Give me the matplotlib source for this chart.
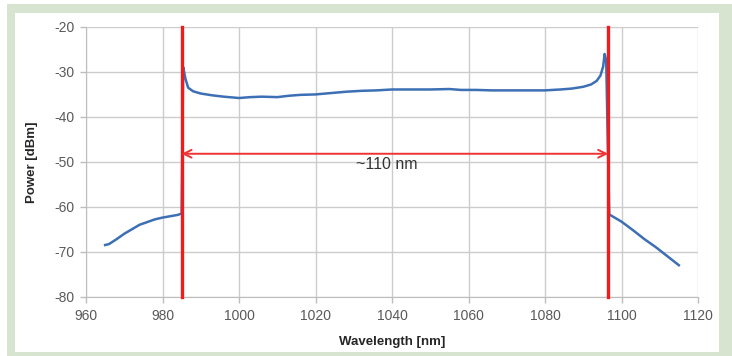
import numpy as np
import matplotlib.pyplot as plt
from matplotlib.patches import Rectangle

plt.rcParams['axes.unicode_minus'] = False

# spectrum
wl = [965, 966, 968, 970, 972, 974, 976, 978, 980, 982, 984, 985.0,
      985.4, 986, 986.7, 988, 990, 993, 996, 1000, 1003, 1006, 1010, 1013,
      1016, 1020, 1024, 1028, 1032, 1036, 1040, 1045, 1050, 1055, 1058,
      1062, 1066, 1070, 1075, 1080, 1084, 1087, 1090, 1092, 1093.5, 1094.5,
      1095.2, 1095.6, 1096.0, 1096.4, 1096.8, 1100, 1103, 1106, 1109,
      1112, 1115]
power = [-68.5, -68.3, -67.2, -66.0, -65.0, -64.0, -63.4, -62.8, -62.4, -62.1, -61.8, -61.5,
         -28.9, -31.5, -33.5, -34.3, -34.8, -35.2, -35.5, -35.8, -35.6, -35.5, -35.6, -35.3,
         -35.1, -35.0, -34.7, -34.4, -34.2, -34.1, -33.9, -33.9, -33.9, -33.8, -34.0,
         -34.0, -34.1, -34.1, -34.1, -34.1, -33.9, -33.7, -33.3, -32.8, -32.0, -30.8,
         -28.8, -26.0, -27.5, -45.0, -61.7, -63.3, -65.2, -67.2, -69.0,
         -71.0, -73.0]

xticks = [960, 980, 1000, 1020, 1040, 1060, 1080, 1100, 1120]
yticks = [-80, -70, -60, -50, -40, -30, -20]
edges = [985.0, 1096.5]   # red markers
span_y = -48.2
span_text = '~110 nm'

fig = plt.figure(figsize=(7.32, 3.56), dpi=100, facecolor='white')
# light green frame around the white panel
fig.patches.append(Rectangle((7 / 732, 0), 1 - 7 / 732, 1 - 4 / 356, transform=fig.transFigure,
                             facecolor='#d7e4cf', edgecolor='none', zorder=-2))
fig.patches.append(Rectangle((15 / 732, 4 / 356), (719 - 15) / 732, (352 - 13) / 356,
                             transform=fig.transFigure, facecolor='white',
                             edgecolor='none', zorder=-1))

ax = fig.add_axes([86 / 732, 1 - 296.7 / 356, (698 - 86) / 732, (296.7 - 27) / 356])
ax.set_facecolor('none')

ax.plot(wl, power, color='#3c6fb4', lw=1.8, zorder=3)
for e in edges:
    ax.plot([e, e], [yticks[0], yticks[-1]], color='#ee1c1c', lw=2.4, zorder=4, clip_on=False)

ax.annotate('', xy=(edges[0], span_y), xytext=(edges[1], span_y),
            arrowprops=dict(arrowstyle='<->', color='#ee3333', lw=1.4,
                            mutation_scale=14, shrinkA=0, shrinkB=0), zorder=5)
ax.text(1038.6, -50.7, span_text, ha='center', va='center', fontsize=11.5,
        family='Liberation Sans', color='#333333')

ax.set_xlim(960, 1120)
ax.set_ylim(-80, -20)
ax.set_xticks(xticks)
ax.set_yticks(yticks)
ax.grid(True, color='#cccccc', lw=1.0)
ax.set_axisbelow(True)
for s in ['top', 'right']:
    ax.spines[s].set_visible(False)
ax.spines['left'].set_color('#bdbdbd')
ax.spines['bottom'].set_color('#bdbdbd')
ax.tick_params(colors='#bdbdbd', labelcolor='#595959', labelsize=10, length=4, width=1)
for lab in ax.get_xticklabels() + ax.get_yticklabels():
    lab.set_family('Liberation Sans')
ax.tick_params(axis='x', pad=5)
ax.tick_params(axis='y', pad=4)

ax.set_xlabel('Wavelength [nm]', fontsize=9.5, fontweight='bold', family='Liberation Sans',
              color='#262626', labelpad=9)
ax.set_ylabel('Power [dBm]', fontsize=9.5, fontweight='bold', family='Liberation Sans',
              color='#262626', labelpad=12)

fig.savefig('out.png', dpi=100)
